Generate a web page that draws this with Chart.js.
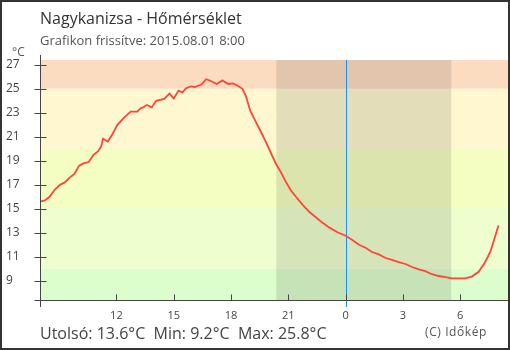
<!DOCTYPE html>
<html>
<head>
<meta charset="utf-8">
<script src="https://cdn.jsdelivr.net/npm/chart.js@4.4.1/dist/chart.umd.min.js"></script>
<style>
  body { margin: 0; background: #fff; }
  canvas { display: block; }
</style>
</head>
<body>
<canvas id="chart" width="510" height="350"></canvas>
<script>
// hours since midnight of 07.31 (24 = midnight, 32 = 8:00 next day)
const hours = [8.0, 8.25, 8.5, 8.8, 9.05, 9.3, 9.55, 9.8, 10.05, 10.3, 10.55, 10.8,
  11.05, 11.2, 11.3, 11.45, 11.55, 11.75, 12.05, 12.4, 12.75, 13.1, 13.25, 13.45,
  13.6, 13.85, 14.08, 14.5, 14.78, 15.0, 15.25, 15.45, 15.65, 15.9, 16.1, 16.45,
  16.7, 16.95, 17.25, 17.55, 17.85, 18.1, 18.35, 18.6, 18.78, 19.0, 19.3, 19.57,
  19.83, 20.09, 20.35, 20.61, 20.87, 21.13, 21.4, 21.74, 22.09, 22.44, 22.78, 23.13,
  23.57, 24.0, 24.35, 24.7, 25.04, 25.39, 25.74, 26.09, 26.43, 26.78, 27.13, 27.48,
  27.83, 28.17, 28.52, 28.87, 29.22, 29.57, 30.26, 30.61, 30.96, 31.3, 31.57, 31.79, 32.0];
const temps = [15.6, 15.7, 16.0, 16.65, 17.0, 17.2, 17.6, 17.9, 18.6, 18.8, 18.9, 19.5,
  19.8, 20.2, 20.85, 20.7, 20.6, 21.1, 22.0, 22.6, 23.1, 23.1, 23.35, 23.5,
  23.65, 23.45, 24.0, 24.15, 24.6, 24.2, 24.85, 24.7, 25.05, 25.2, 25.15, 25.35,
  25.8, 25.65, 25.4, 25.7, 25.4, 25.45, 25.25, 25.0, 24.4, 23.2, 22.25, 21.4,
  20.55, 19.65, 18.75, 18.05, 17.25, 16.55, 16.0, 15.35, 14.75, 14.3, 13.85, 13.45,
  13.05, 12.75, 12.4, 12.0, 11.75, 11.4, 11.2, 10.9, 10.75, 10.55, 10.4, 10.15,
  9.95, 9.8, 9.55, 9.4, 9.3, 9.2, 9.2, 9.35, 9.75, 10.55, 11.4, 12.5, 13.6];

const yTicks = [9, 11, 13, 15, 17, 19, 21, 23, 25, 27];
const xTicks = [12, 15, 18, 21, 24, 27, 30];

// background temperature bands (top to bottom)
const bandLimits = [27.4, 25, 20, 15, 10, 7.4];
const bandColors = ['#fcdcc1', '#fef7cf', '#f5fec2', '#effecf', '#dcfdcc'];

const sunset = 20.37, sunrise = 29.53, midnight = 24;

const axisColor = '#444';

const decor = {
  id: 'decor',
  beforeDatasetsDraw(chart) {
    const { ctx, chartArea: a, scales: { x, y } } = chart;
    ctx.save();
    for (let i = 0; i < bandColors.length; i++) {
      const y0 = y.getPixelForValue(bandLimits[i]);
      const y1 = y.getPixelForValue(bandLimits[i + 1]);
      ctx.fillStyle = bandColors[i];
      ctx.fillRect(a.left, y0, a.right - a.left, y1 - y0);
    }
    // night
    const xs = x.getPixelForValue(sunset), xe = x.getPixelForValue(sunrise);
    ctx.fillStyle = 'rgba(0,0,0,0.1)';
    ctx.fillRect(xs, a.top, xe - xs, a.bottom - a.top);
    // midnight
    const xm = Math.round(x.getPixelForValue(midnight)) + 0.5;
    ctx.strokeStyle = '#1e90e8';
    ctx.lineWidth = 1;
    ctx.beginPath();
    ctx.moveTo(xm, a.top);
    ctx.lineTo(xm, a.bottom + 7);
    ctx.stroke();
    ctx.restore();
  },
  afterDraw(chart) {
    const { ctx, chartArea: a, scales: { x, y } } = chart;
    ctx.save();
    ctx.strokeStyle = axisColor;
    ctx.lineWidth = 1;
    const ax = Math.round(a.left) + 0.5;
    const ay = Math.round(a.bottom) + 0.5;
    ctx.beginPath();
    ctx.moveTo(ax, a.top - 5);
    ctx.lineTo(ax, a.bottom + 7);
    ctx.moveTo(ax - 6, ay);
    ctx.lineTo(a.right, ay);
    yTicks.forEach(v => {
      const py = Math.round(y.getPixelForValue(v)) + 0.5;
      ctx.moveTo(ax - 6, py);
      ctx.lineTo(ax + 6, py);
    });
    xTicks.forEach(v => {
      const px = Math.round(x.getPixelForValue(v)) + 0.5;
      ctx.moveTo(px, ay - 6);
      ctx.lineTo(px, ay);
    });
    ctx.stroke();

    // texts
    ctx.textBaseline = 'alphabetic';
    ctx.textAlign = 'left';
    ctx.fillStyle = '#333';
    ctx.font = '16px "Open Sans"';
    ctx.fillText('Nagykanizsa - Hőmérséklet', 40, 24);
    ctx.fillStyle = '#555';
    ctx.font = '13px "Open Sans"';
    ctx.fillText('Grafikon frissítve: 2015.08.01 8:00', 40, 45);
    ctx.font = '12px "Open Sans"';
    ctx.fillText('°C', 12, 56);

    const last = temps[temps.length - 1];
    const min = Math.min(...temps), max = Math.max(...temps);
    ctx.fillStyle = '#444';
    ctx.font = '16px "Open Sans"';
    ctx.fillText('Utolsó: ' + last.toFixed(1) + '°C  Min: ' + min.toFixed(1) +
      '°C  Max: ' + max.toFixed(1) + '°C', 40, 339);
    ctx.fillStyle = '#555';
    ctx.font = '12px "Open Sans"';
    ctx.letterSpacing = '0.6px';
    ctx.fillText('(C) Időkép', 425, 336);
    ctx.letterSpacing = '0px';

    // frame
    ctx.strokeStyle = '#333';
    ctx.lineWidth = 2;
    ctx.strokeRect(1, 1, 508, 348);
    ctx.restore();
  }
};

Chart.defaults.font.family = '"Open Sans"';

new Chart(document.getElementById('chart'), {
  type: 'line',
  data: {
    datasets: [{
      data: hours.map((h, i) => ({ x: h, y: temps[i] })),
      borderColor: '#ff4538',
      borderWidth: 1.8,
      pointRadius: 0,
      tension: 0,
      fill: false
    }]
  },
  options: {
    responsive: false,
    animation: false,
    devicePixelRatio: 1,
    layout: { padding: { left: 6, top: 60, right: 2, bottom: 0 } },
    plugins: {
      legend: { display: false },
      tooltip: { enabled: false }
    },
    scales: {
      x: {
        type: 'linear',
        min: 8,
        max: 32.5,
        afterBuildTicks: s => { s.ticks = xTicks.map(v => ({ value: v })); },
        afterFit: s => { s.height = 50; },
        grid: { display: false, drawTicks: false },
        border: { display: false },
        ticks: {
          padding: 9,
          color: '#444',
          font: { size: 11 },
          maxRotation: 0,
          callback: v => String(v % 24)
        }
      },
      y: {
        min: 7.4,
        max: 27.4,
        afterBuildTicks: s => { s.ticks = yTicks.map(v => ({ value: v })); },
        afterFit: s => { s.width = 34; },
        grid: { display: false, drawTicks: false },
        border: { display: false },
        ticks: {
          crossAlign: 'far',
          color: '#444',
          font: { size: 12 }
        }
      }
    }
  },
  plugins: [decor]
});
</script>
</body>
</html>
